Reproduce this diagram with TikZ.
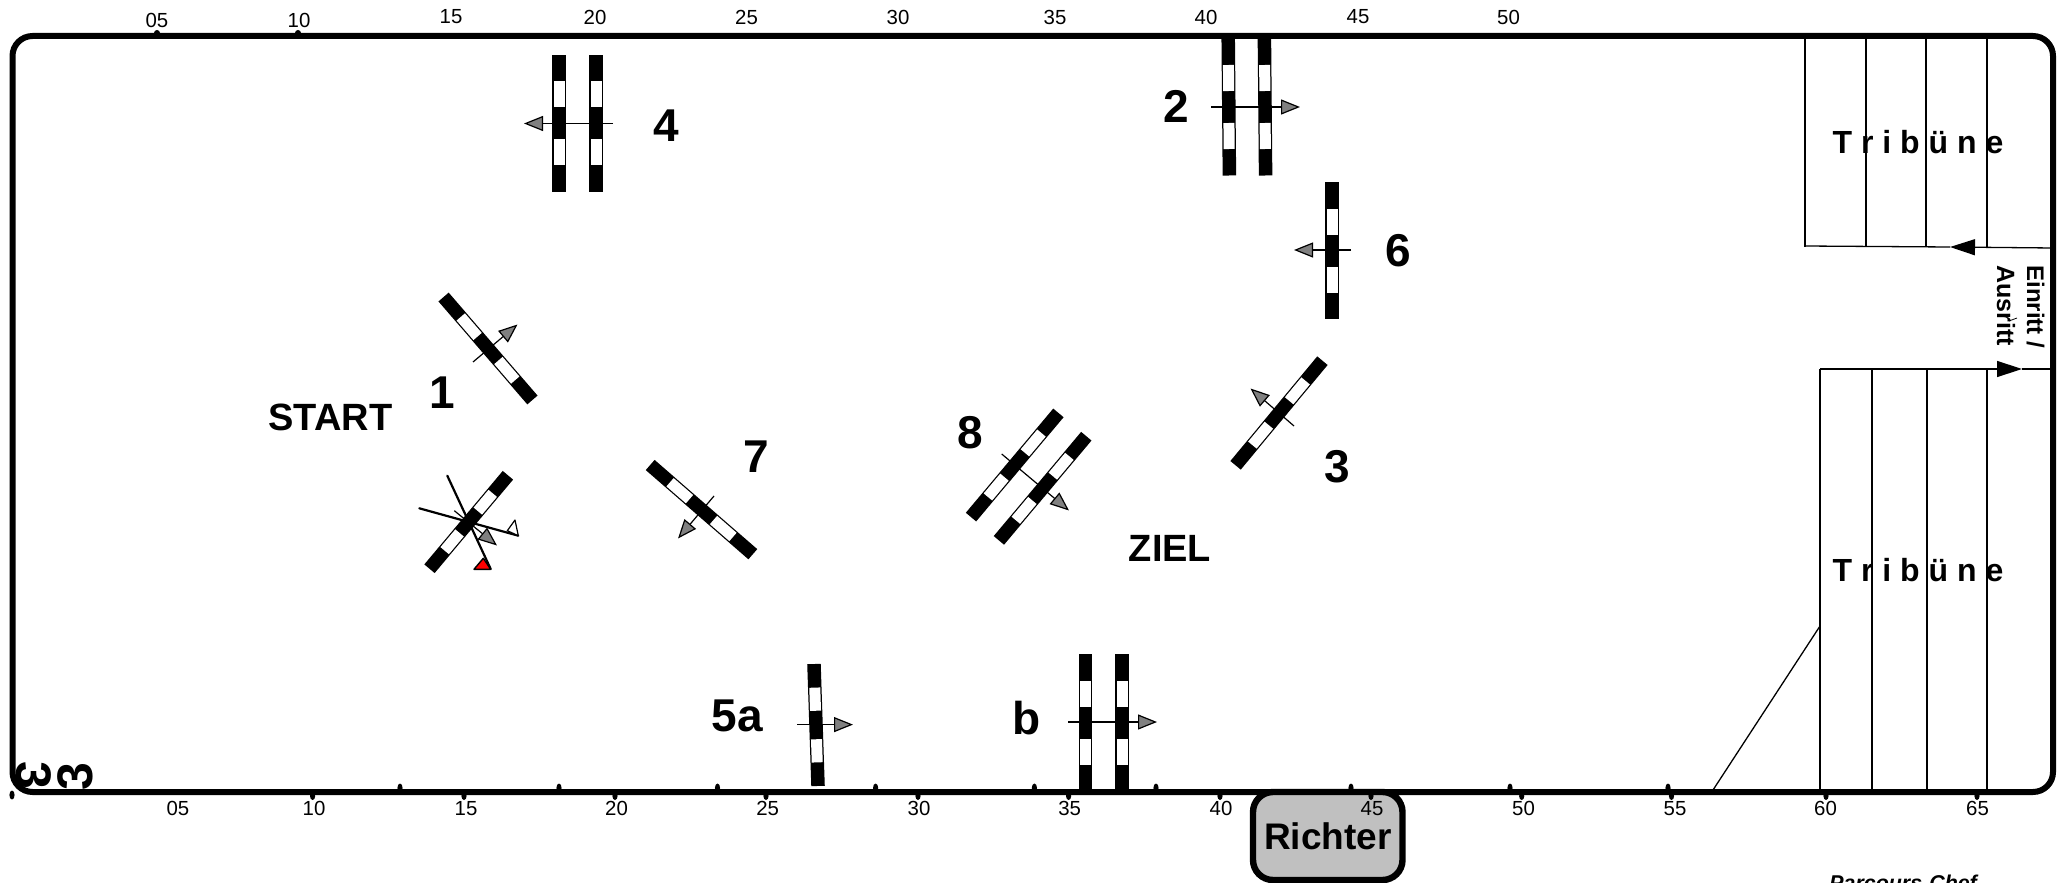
\documentclass[tikz,border=0pt]{standalone}
\usepackage{fontspec}
\setmainfont{Liberation Sans}
\usetikzlibrary{arrows.meta}
\definecolor{headgray}{HTML}{808080}
\definecolor{boxgray}{HTML}{C0C0C0}
\tikzset{
  x=0.5pt,y=-0.5pt,
  frameline/.style={line width=3pt,line join=round},
  standline/.style={line width=0.65pt},
  course/.style={line width=0.6pt,-{Triangle[length=9.5pt,width=7.5pt,fill=headgray]}},
  entry/.style={line width=0.65pt,-{Triangle[length=12.5pt,width=8pt,fill=black]}},
  dist/.style={line width=1.1pt,line cap=round},
  ticklabel/.style={inner sep=0pt,font=\fontsize{10.2}{12}\selectfont},
  numlabel/.style={inner sep=0pt,font=\fontsize{23}{26}\bfseries\selectfont},
  marklabel/.style={inner sep=0pt,font=\fontsize{25}{28}\bfseries\selectfont},
  wordlabel/.style={inner sep=0pt,font=\fontsize{19}{22}\bfseries\selectfont},
  standlabel/.style={inner sep=0pt,font=\fontsize{16}{19}\bfseries\selectfont},
  tickdot/.style={fill=black,draw=none},
}
% pole centre x, centre y, canvas angle, length (px)
\newcommand\racepole[4]{%
  \begin{scope}[shift={(#1,#2)},rotate=#3,xscale=#4/137]
    \fill[black] (-68.5,-6.75) rectangle (68.5,6.75);
    \fill[white] (-42,-5.5) rectangle (-16,5.5);
    \fill[white] (16,-5.5) rectangle (42,5.5);
  \end{scope}}
\newcommand\updot[1]{\fill[tickdot] (#1,788) ellipse [x radius=2.6,y radius=4.5];}
\newcommand\lowdot[1]{\fill[tickdot] (#1,796) ellipse [x radius=2.6,y radius=4];}
\begin{document}
\begin{tikzpicture}
\useasboundingbox (0,0) rectangle (2062,883);
\clip (0,0) rectangle (2062,883);
\fill[white] (0,0) rectangle (2062,883);

% rotated marks in the corner
\node[marklabel,rotate=-90] (markA) at (34,775) {3};
\node[marklabel,rotate=90] (markB) at (75,777) {3};

% stands
\foreach \xx in {1805,1866,1926,1987} \draw[standline] (\xx,36) -- (\xx,247);
\foreach \xx in {1820,1872,1927,1987} \draw[standline] (\xx,369) -- (\xx,792);
\coordinate (upR) at (2053,248);
\coordinate (upM) at (1950,247);
\coordinate (upL) at (1805,246);
\coordinate (loL) at (1820,369);
\coordinate (loM) at (2022,369);
\coordinate (loR) at (2053,369);
\draw[standline] (upM) -- (upL);
\draw[entry] (upR) -- (upM);
\draw[standline] (loM) -- (loR);
\draw[entry] (loL) -- (loM);
\coordinate (diagA) at (1713,790);
\coordinate (diagB) at (1820,626);
\draw[standline] (diagA) -- (diagB);

% frame
\draw[frameline,rounded corners=10pt] (12.5,36) rectangle (2053,792);
\fill[tickdot] (12,795) ellipse [x radius=2.6,y radius=4.5];

% ticks
\fill[tickdot] (157,33) circle [radius=3];
\fill[tickdot] (298,33) circle [radius=3];
\foreach \xx in {400,559,717.5,875.6,1034.4,1156,1351,1510,1668} {\updot{\xx}}
\foreach \xx in {312.6,464,615,766,918,1068.6,1220,1671.5,1521.7,1826,1977} {\lowdot{\xx}}

% top scale
\foreach \xx/\tt in {157/05,299/10} \node[ticklabel] (top\tt) at (\xx,20) {\tt};
\foreach \xx/\tt in {451/15,595/20,746.5/25,898/30,1055/35,1206/40,1358/45,1508.5/50}
  \node[ticklabel] (top\tt) at (\xx,17) {\tt};

% judge box
\draw[line width=3.2pt,fill=boxgray,rounded corners=10pt] (1253,792) rectangle (1402.5,880);
\lowdot{1371}
\node[inner sep=0pt,font=\fontsize{18.5}{21}\bfseries\selectfont] (richter) at (1328,836) {Richter};

% bottom scale
\foreach \xx/\tt in {178/05,314/10,466/15,616.5/20,767.6/25,919/30,1069.6/35,1221/40,1372/45,1523.5/50,1675/55,1825.5/60,1977.5/65}
  \node[ticklabel] (bot\tt) at (\xx,808.5) {\tt};

% fence 4
\racepole{559}{123.5}{90}{137}
\racepole{596}{123.5}{90}{137}
\coordinate (a4s) at (613,123.5); \coordinate (a4e) at (524,123.5);
\draw[course] (a4s) -- (a4e);
% fence 2
\racepole{1228.8}{107}{90.5}{137}
\racepole{1265}{107}{90.5}{137}
\coordinate (a2s) at (1211,107); \coordinate (a2e) at (1300,107);
\draw[course] (a2s) -- (a2e);
% fence 6
\racepole{1332}{250.5}{90}{137}
\coordinate (a6s) at (1351,250); \coordinate (a6e) at (1294,250);
\draw[course] (a6s) -- (a6e);
% fence 1
\racepole{488}{348.5}{-49.2}{136}
\coordinate (a1s) at (473,362); \coordinate (a1e) at (517.5,324.5);
\draw[course] (a1s) -- (a1e);
% fence 3
\racepole{1279}{413}{50.3}{136}
\coordinate (a3s) at (1294,426); \coordinate (a3e) at (1250.5,388.5);
\draw[course] (a3s) -- (a3e);
% fence 7
\racepole{701.5}{509.6}{-41}{136}
\coordinate (a7s) at (714,496); \coordinate (a7e) at (678,538.5);
\draw[course] (a7s) -- (a7e);
% fence 8
\racepole{1014.7}{465}{50}{136}
\racepole{1042.6}{488.3}{50}{136}
\coordinate (a8s) at (1001.7,454); \coordinate (a8e) at (1069,510.5);
\draw[course] (a8s) -- (a8e);
% fence 5a
\racepole{816}{725}{91.9}{122}
\coordinate (a5s) at (797,724.6); \coordinate (a5e) at (853,724.6);
\draw[course] (a5s) -- (a5e);
% fence b
\racepole{1085.5}{723}{90}{138}
\racepole{1122}{723}{90}{138}
\coordinate (abs) at (1068,722); \coordinate (abe) at (1157,722);
\draw[course] (abs) -- (abe);
% start/finish fence with distance lines
\racepole{468.7}{522}{50}{122}
\coordinate (arS) at (447.3,475.7); \coordinate (arE) at (490.7,569);
\coordinate (awS) at (419.3,508.3); \coordinate (awE) at (518.3,535.7);
\coordinate (agS) at (454.3,510.7); \coordinate (agE) at (497,545.5);
\draw[dist] (arS) -- (arE);
\draw[dist] (awS) -- (awE);
\draw[course] (agS) -- (agE);
\draw[line width=0.7pt,fill=red,line join=round] (474,569.3) -- (490.7,569.3) -- (483.3,558.3) -- cycle;
\draw[line width=0.6pt,fill=white,line join=round] (507.3,530.7) -- (515,520) -- (518.3,535.7) -- cycle;

% labels
\node[numlabel] (n4) at (666,126) {4};
\node[numlabel] (n2) at (1176,106) {2};
\node[numlabel] (n6) at (1398,251) {6};
\node[numlabel] (n1) at (442,392.5) {1};
\node[numlabel] (n3) at (1337,466.5) {3};
\node[numlabel] (n7) at (756.5,457) {7};
\node[numlabel] (n8) at (970.5,432.5) {8};
\node[numlabel] (n5a) at (737,716) {5a};
\node[numlabel] (nb) at (1026.5,718.5) {b};
\node[wordlabel] (start) at (330.5,417) {START};
\node[wordlabel] (ziel) at (1170,548.5) {ZIEL};
\node[standlabel] (trib1) at (1918,142) {T r i b ü n e};
\node[standlabel] (trib2) at (1918,570) {T r i b ü n e};
\node[inner sep=0pt,rotate=-90,anchor=base west,font=\fontsize{12}{12}\bfseries\selectfont] (einritt) at (2027,265) {Einritt /};
\node[inner sep=0pt,rotate=-90,anchor=base west,font=\fontsize{12.5}{12}\bfseries\selectfont] (ausritt) at (1997,265) {Ausritt};
\coordinate (nickA) at (2009,321); \coordinate (nickB) at (2017,318);
\draw[line width=0.4pt] (nickA) -- (nickB);
\node[inner sep=0pt,anchor=base west,font=\fontsize{10.7}{12}\bfseries\itshape\selectfont] (chef) at (1829,890) {Parcours-Chef};
\end{tikzpicture}
\end{document}
